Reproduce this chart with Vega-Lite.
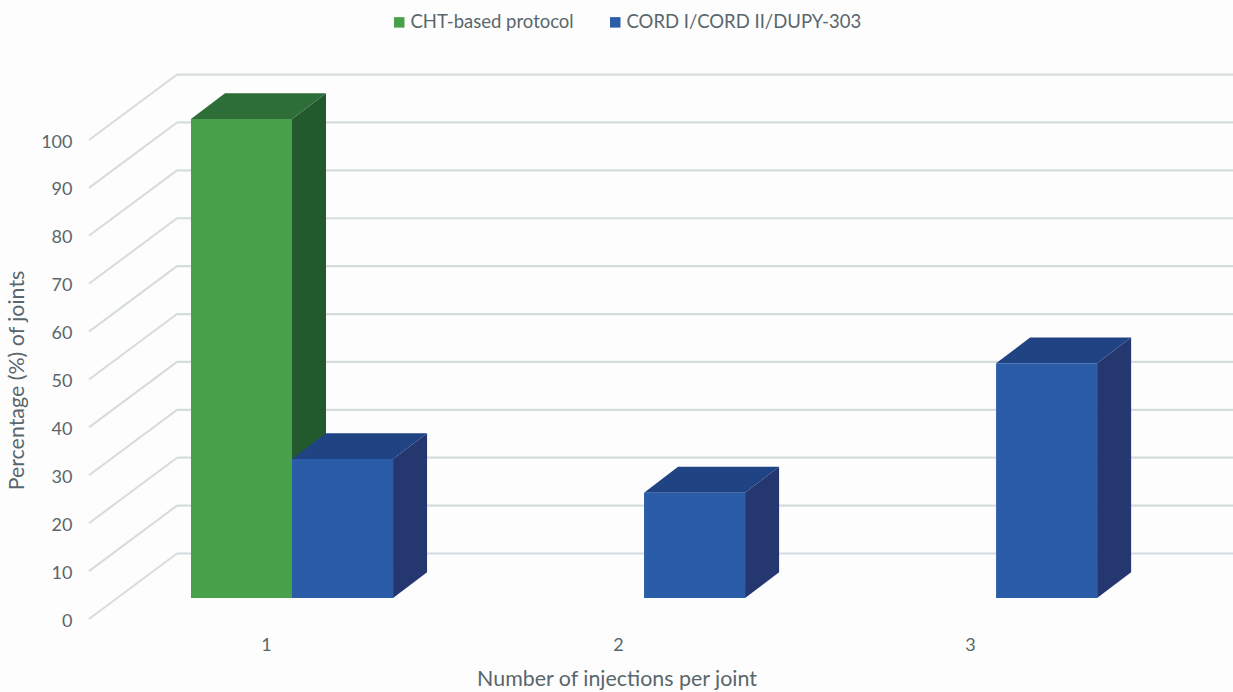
{
  "$schema": "https://vega.github.io/schema/vega-lite/v6.json",
  "width": 1233,
  "height": 692,
  "padding": 0,
  "autosize": "none",
  "background": "#fdfdfe",
  "config": {
    "view": {"stroke": null},
    "font": "Lato",
    "axis": {"grid": false, "domain": false, "ticks": false, "labelColor": "#59666b", "titleColor": "#59666b", "labelFontSize": 18, "titleFontSize": 21.4, "titleFontWeight": "normal"}
  },
  "datasets": {
    "bars": [
      {"injections": 1, "series": "CHT-based protocol", "percent": 100},
      {"injections": 1, "series": "CORD I/CORD II/DUPY-303", "percent": 29},
      {"injections": 2, "series": "CORD I/CORD II/DUPY-303", "percent": 22},
      {"injections": 3, "series": "CORD I/CORD II/DUPY-303", "percent": 49}
    ],
    "levels": [
      {"level": 0}, {"level": 10}, {"level": 20}, {"level": 30}, {"level": 40}, {"level": 50},
      {"level": 60}, {"level": 70}, {"level": 80}, {"level": 90}, {"level": 100}
    ]
  },
  "layer": [
    {
      "data": {"name": "levels"},
      "transform": [
        {"calculate": "datum.level + 9.29", "as": "wallY"},
        {"calculate": "0.6733", "as": "wallLeft"},
        {"calculate": "3.673", "as": "wallRight"}
      ],
      "mark": {"type": "rule", "color": "#d6dcde", "strokeWidth": 2.2},
      "encoding": {
        "x": {"field": "wallLeft", "type": "quantitative", "scale": {"domain": [0.1705, 3.673], "range": [0, 1233], "nice": false, "zero": false}, "axis": {"values": [1, 2, 3], "format": "d", "orient": "bottom", "offset": -56, "labelOffset": -26, "labelPadding": 0, "title": "Number of injections per joint", "titlePadding": 14}},
        "x2": {"field": "wallRight"},
        "y": {"field": "wallY", "type": "quantitative", "scale": {"domain": [-19.62, 124.85], "range": [692, 0], "nice": false, "zero": false}, "axis": {"values": [0, 10, 20, 30, 40, 50, 60, 70, 80, 90, 100], "orient": "left", "offset": -72, "labelOffset": 23, "labelPadding": 0, "title": "Percentage (%) of joints", "titleX": -45, "titleY": 380}}
      }
    },
    {
      "data": {"name": "levels"},
      "transform": [
        {"calculate": "datum.level + 9.29", "as": "backY"},
        {"calculate": "datum.level - 4.38", "as": "frontY"},
        {"calculate": "0.6733", "as": "backX"},
        {"calculate": "0.4233", "as": "frontX"}
      ],
      "mark": {"type": "rule", "color": "#d6dcde", "strokeWidth": 2},
      "encoding": {
        "x": {"field": "backX", "type": "quantitative"},
        "x2": {"field": "frontX"},
        "y": {"field": "backY", "type": "quantitative"},
        "y2": {"field": "frontY"}
      }
    },
    {
      "data": {"name": "bars"},
      "transform": [
        {"calculate": "datum.injections + (datum.series === 'CHT-based protocol' ? -0.287 : 0)", "as": "left"},
        {"calculate": "datum.left + 0.287", "as": "right"},
        {"calculate": "[0, 1]", "as": "edge"},
        {"flatten": ["edge"]},
        {"calculate": "datum.percent + datum.edge * 5.4", "as": "topY"},
        {"calculate": "datum.edge * 5.4", "as": "floorY"},
        {"calculate": "datum.left + datum.edge * 0.0966", "as": "topLeft"},
        {"calculate": "datum.right + datum.edge * 0.0966", "as": "topRight"}
      ],
      "layer": [
        {
          "mark": {"type": "area", "orient": "vertical"},
          "encoding": {
            "x": {"field": "topRight", "type": "quantitative"},
            "y": {"field": "floorY", "type": "quantitative"},
            "y2": {"field": "topY"},
            "detail": [{"field": "injections"}, {"field": "series"}],
            "color": {"condition": {"test": "datum.series === 'CHT-based protocol'", "value": "#225a2e"}, "value": "#24376f"}
          }
        },
        {
          "mark": {"type": "area", "orient": "horizontal"},
          "encoding": {
            "y": {"field": "topY", "type": "quantitative"},
            "x": {"field": "topLeft", "type": "quantitative"},
            "x2": {"field": "topRight"},
            "detail": [{"field": "injections"}, {"field": "series"}],
            "color": {"condition": {"test": "datum.series === 'CHT-based protocol'", "value": "#2c6d38"}, "value": "#204384"}
          }
        }
      ]
    },
    {
      "data": {"name": "bars"},
      "transform": [
        {"calculate": "datum.injections + (datum.series === 'CHT-based protocol' ? -0.287 : 0)", "as": "left"},
        {"calculate": "datum.left + 0.287", "as": "right"}
      ],
      "mark": {"type": "rect"},
      "encoding": {
        "x": {"field": "left", "type": "quantitative"},
        "x2": {"field": "right"},
        "y": {"field": "percent", "type": "quantitative"},
        "y2": {"datum": 0},
        "color": {
          "field": "series",
          "type": "nominal",
          "scale": {"domain": ["CHT-based protocol", "CORD I/CORD II/DUPY-303"], "range": ["#47a04a", "#2a5ca8"]},
          "legend": {"title": null, "orient": "none", "direction": "horizontal", "legendX": 390, "legendY": 13, "labelFontSize": 18.5, "labelColor": "#59666b", "labelLimit": 400, "symbolType": "square", "symbolSize": 110, "columnPadding": 32, "labelOffset": 2, "symbolStrokeWidth": 0}
        }
      }
    }
  ]
}
